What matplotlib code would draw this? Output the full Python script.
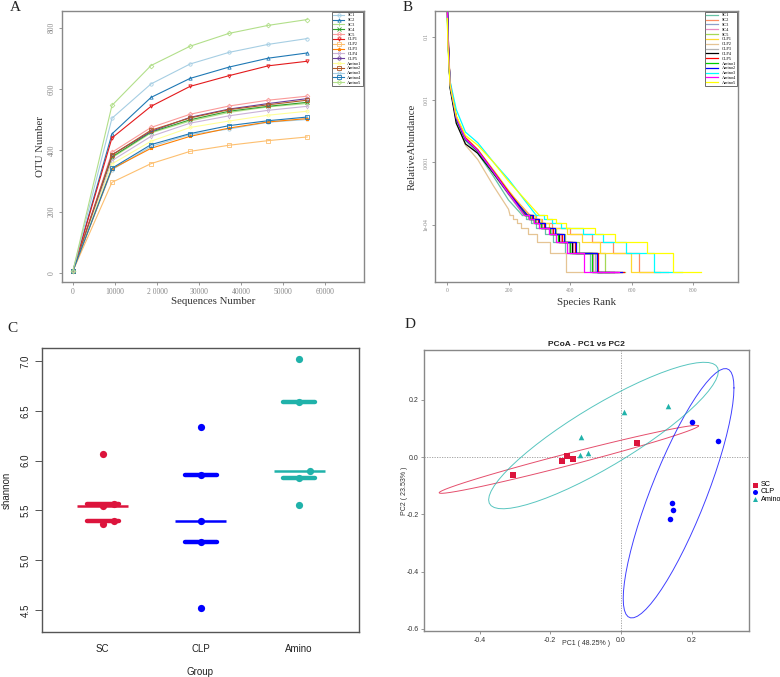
import numpy as np
import matplotlib
matplotlib.use('Agg')
import matplotlib.pyplot as plt
from matplotlib.ticker import NullLocator

samples = ['SC1', 'SC2', 'SC3', 'SC4', 'SC5', 'CLP1', 'CLP2', 'CLP3', 'CLP4', 'CLP5',
           'Amino1', 'Amino2', 'Amino3', 'Amino4', 'Amino5']

# ---- A: rarefaction curves
seq_depth = [0, 9300, 18600, 27900, 37200, 46500, 55800]
otu_number = [
    [7, 337, 413, 452, 470, 492, 501],   # SC1
    [7, 454, 573, 635, 672, 701, 718],   # SC2
    [7, 376, 457, 496, 524, 542, 553],   # SC3
    [7, 379, 460, 500, 528, 544, 557],   # SC4
    [7, 394, 475, 518, 545, 564, 577],   # SC5
    [7, 441, 544, 609, 644, 676, 691],   # CLP1
    [7, 296, 357, 397, 417, 432, 444],   # CLP2
    [7, 340, 407, 446, 473, 493, 504],   # CLP3
    [7, 367, 446, 489, 513, 531, 544],   # CLP4
    [7, 386, 462, 508, 535, 553, 569],   # CLP5
    [7, 356, 430, 475, 496, 515, 528],   # Amino1
    [7, 385, 466, 506, 533, 549, 564],   # Amino2
    [7, 505, 617, 682, 720, 746, 765],   # Amino3
    [7, 342, 419, 455, 481, 497, 509],   # Amino4
    [7, 547, 677, 740, 782, 808, 827],   # Amino5
]
depth_labels = ['0', '10000', '2 0000', '30000', '40000', '50000', '60000']

# ---- B: rank abundance (read counts out of total_reads)
total_reads = 55800
head_rank = [1, 3, 10, 30, 60, 100, 150, 200]
head_count = [
    [14000, 5200, 900, 270, 125, 78, 34, 14],    # SC1
    [15000, 5400, 1000, 300, 138, 88, 41, 19],   # SC2
    [17000, 5600, 950, 285, 132, 86, 40, 18],    # SC3
    [16000, 5800, 1000, 290, 135, 88, 41, 19],   # SC4
    [22000, 6500, 980, 280, 130, 85, 40, 19],    # SC5
    [13000, 5000, 1050, 305, 140, 90, 43, 20],   # CLP1
    [19000, 7000, 1100, 255, 105, 62, 24, 10],   # CLP2
    [15000, 5300, 920, 270, 125, 82, 37, 17],    # CLP3
    [24000, 8000, 850, 235, 110, 78, 38, 18],    # CLP4
    [17000, 5700, 1000, 295, 137, 88, 41, 19],   # CLP5
    [15500, 5500, 960, 275, 128, 84, 39, 18],    # Amino1
    [30000, 6000, 950, 280, 130, 86, 40, 18],    # Amino2
    [12000, 4200, 1100, 390, 170, 115, 57, 30],  # Amino3
    [16000, 5600, 1000, 290, 133, 86, 40, 18],   # Amino4
    [11000, 4000, 950, 310, 150, 105, 57, 28],   # Amino5
]
tail_count = [8, 7, 6, 5, 4, 3, 2, 1]
tail_rank = [
    [245, 258, 272, 290, 320, 345, 385, 466],   # SC1
    [270, 290, 310, 340, 400, 470, 540, 624],   # SC2
    [255, 268, 285, 305, 335, 365, 400, 470],   # SC3
    [258, 272, 290, 310, 340, 370, 410, 475],   # SC4
    [262, 278, 298, 320, 355, 385, 430, 513],   # SC5
    [265, 285, 305, 330, 390, 440, 496, 597],   # CLP1
    [205, 215, 228, 240, 262, 291, 334, 388],   # CLP2
    [250, 263, 280, 300, 330, 355, 395, 480],   # CLP3
    [255, 268, 285, 305, 335, 365, 405, 486],   # CLP4
    [260, 275, 295, 315, 345, 375, 415, 490],   # CLP5
    [255, 270, 287, 305, 335, 360, 400, 472],   # Amino1
    [262, 278, 298, 320, 350, 380, 420, 488],   # Amino2
    [290, 315, 340, 370, 441, 507, 583, 672],   # Amino3
    [252, 265, 282, 300, 330, 355, 390, 445],   # Amino4
    [300, 325, 355, 388, 480, 547, 651, 734],   # Amino5
]
species_total = [501, 718, 553, 557, 580, 691, 444, 504, 544, 576, 528, 570, 765, 560, 826]

# ---- C: shannon index
groups = ['SC', 'CLP', 'Amino']
shannon_SC = [6.07, 5.56, 5.54, 5.39, 5.36]
shannon_CLP = [6.34, 5.86, 5.39, 5.18, 4.52]
shannon_Amino = [7.02, 6.59, 5.90, 5.83, 5.55]

# ---- D: PCoA coordinates
pc1_SC = [-0.305, -0.167, -0.154, -0.136, 0.045]
pc2_SC = [-0.064, -0.013, 0.003, -0.006, 0.049]
pc1_CLP = [0.200, 0.274, 0.144, 0.146, 0.138]
pc2_CLP = [0.123, 0.057, -0.162, -0.184, -0.215]
pc1_Amino = [-0.112, -0.115, -0.092, 0.009, 0.134]
pc2_Amino = [0.071, 0.006, 0.015, 0.157, 0.177]

paired = ['#A6CEE3', '#1F78B4', '#B2DF8A', '#33A02C', '#FB9A99', '#E31A1C',
          '#FDBF6F', '#FF7F00', '#CAB2D6', '#6A3D9A', '#FFFF99', '#B15928']
colors_a = [paired[i % 12] for i in range(15)]
markers_a = ['o', '^', '+', 'x', 'D', 'v', 's', '*', 'd', 'o', 'h', 's', 'o', 's', 'D']
colors_b = ['#66C2A5', '#FC8D62', '#8DA0CB', '#E78AC3', '#A6D854', '#FFD92F', '#E5C494',
            '#B3B3B3', 'black', 'red', '#00CD00', 'blue', 'cyan', 'magenta', 'yellow']
group_colors = ['#DC143C', '#0000FF', '#20B2AA']

SERIF = 'Liberation Serif'
SANS = 'Liberation Sans'

fig = plt.figure(figsize=(7.8, 6.77), dpi=100)


def r_box(ax, color):
    for s in ax.spines.values():
        s.set_color(color)
        s.set_linewidth(1.0)
    ax.tick_params(colors=color, direction='out', length=2, width=0.6, pad=2.5)


# ---------------- A
axA = fig.add_axes([0.0795, 0.5835, 0.387, 0.4003])
for i, name in enumerate(samples):
    axA.plot(seq_depth, otu_number[i], color=colors_a[i], marker=markers_a[i],
             markersize=2.4, mfc='none', mew=0.6, lw=0.8, label=name)
axA.set_xlim(-2600, 69300)
axA.set_ylim(-29, 855)
axA.set_xticks([0, 10000, 20000, 30000, 40000, 50000, 60000])
axA.set_xticklabels(depth_labels, family=SERIF, fontsize=5.5, color='#333')
axA.set_yticks([0, 200, 400, 600, 800])
axA.set_yticklabels(['0', '200', '400', '600', '800'], family=SERIF, fontsize=5.5,
                    color='#333', rotation=90, va='center')
r_box(axA, '#888888')
axA.set_xlabel('Sequences Number', family=SERIF, fontsize=7.8, color='#333')
axA.set_ylabel('OTU Number', family=SERIF, fontsize=7.8, color='#333')
axA.xaxis.set_label_coords(0.5, -0.055)
axA.yaxis.set_label_coords(-0.056, 0.5)
lg = axA.legend(loc='upper right', prop={'family': SERIF, 'size': 3.2}, fancybox=False,
                edgecolor='#555555', borderpad=0.35, labelspacing=0.16, handlelength=2.4,
                borderaxespad=0.15, framealpha=1)
lg.get_frame().set_linewidth(0.6)

# ---------------- B
axB = fig.add_axes([0.5577, 0.5835, 0.3885, 0.4003])
for i, name in enumerate(samples):
    hx = head_rank + [tail_rank[i][0]]
    hy = [c / total_reads for c in head_count[i] + [tail_count[0]]]
    axB.plot(hx, hy, color=colors_b[i], lw=0.9, label=name)
    tx = tail_rank[i] + [species_total[i]]
    ty = [c / total_reads for c in tail_count + [1]]
    axB.step(tx, ty, where='post', color=colors_b[i], lw=0.9)
axB.set_yscale('log')
axB.set_xlim(-39, 946)
axB.set_ylim(1.24e-5, 0.26)
axB.yaxis.set_minor_locator(NullLocator())
axB.set_yticks([1e-4, 1e-3, 1e-2, 1e-1])
axB.set_yticklabels(['1e-04', '0.001', '0.01', '0.1'], family=SERIF, fontsize=4,
                    color='#333', rotation=90, va='center')
axB.set_xticks([0, 200, 400, 600, 800])
axB.set_xticklabels(['0', '200', '400', '600', '800'], family=SERIF, fontsize=4, color='#333')
r_box(axB, '#888888')
axB.set_xlabel('Species Rank', family=SERIF, fontsize=7.8, color='#333')
axB.set_ylabel('RelativeAbundance', family=SERIF, fontsize=7.8, color='#333')
axB.xaxis.set_label_coords(0.5, -0.059)
axB.yaxis.set_label_coords(-0.06, 0.5)
lg = axB.legend(loc='upper right', prop={'family': SERIF, 'size': 3.2}, fancybox=False,
                edgecolor='#555555', borderpad=0.35, labelspacing=0.16, handlelength=2.6,
                borderaxespad=0.15, framealpha=1)
lg.get_frame().set_linewidth(0.6)

# ---------------- C
axC = fig.add_axes([0.0538, 0.0665, 0.4064, 0.4195])
for g, vals in enumerate([shannon_SC, shannon_CLP, shannon_Amino]):
    xg = g + 1
    col = group_colors[g]
    q1, med, q3 = np.percentile(vals, [25, 50, 75])
    axC.plot([xg - 0.26, xg + 0.26], [med, med], color=col, lw=1.8, solid_capstyle='butt')
    for q in (q1, q3):
        axC.plot([xg - 0.16, xg + 0.16], [q, q], color=col, lw=3.2, solid_capstyle='round')
    # simple swarm: nudge a point right when it sits on top of the previous one
    prev = None
    for v in sorted(vals):
        dx = 0.11 if prev is not None and abs(v - prev) < 0.08 else 0.0
        prev = v
        axC.plot(xg + dx, v, 'o', color=col, markersize=5.2, mew=0)
axC.set_xlim(0.38, 3.61)
axC.set_ylim(4.28, 7.13)
axC.set_xticks([1, 2, 3])
axC.set_xticklabels(groups, family=SANS, fontsize=7, color='#222')
axC.set_yticks([4.5, 5.0, 5.5, 6.0, 6.5, 7.0])
axC.set_yticklabels(['4.5', '5.0', '5.5', '6.0', '6.5', '7.0'], family=SANS, fontsize=7,
                    color='#222', rotation=90, va='center')
for s in axC.spines.values():
    s.set_color('#555555')
    s.set_linewidth(1.0)
axC.tick_params(axis='y', colors='#555555', length=5, width=0.7, pad=3)
axC.tick_params(axis='x', length=0, pad=9)
for t in axC.get_yticklabels() + axC.get_xticklabels():
    t.set_color('#222')
axC.set_xlabel('Group', family=SANS, fontsize=7, color='#222')
axC.set_ylabel('shannon', family=SANS, fontsize=7, color='#222')
axC.xaxis.set_label_coords(0.5, -0.123)
axC.yaxis.set_label_coords(-0.095, 0.5)

# ---------------- D


def cov_trob(x, nu=5, maxit=25, tol=0.01):
    n, p = x.shape
    wt = np.ones(n)
    loc = x.mean(axis=0)
    w = np.sqrt(wt)
    for _ in range(maxit):
        w0 = w
        X = x - loc
        _, d, vt = np.linalg.svd(np.sqrt(w / w.sum())[:, None] * X, full_matrices=False)
        wX = X @ vt.T @ np.diag(1 / d)
        Q = (wX ** 2).sum(axis=1)
        w = wt * (nu + p) / (nu + Q)
        loc = (w[:, None] * x).sum(axis=0) / w.sum()
        if np.all(np.abs(w - w0) < tol):
            break
    sx = np.sqrt(w)[:, None] * X
    return loc, sx.T @ sx / wt.sum()


def ellipse_pts(px, py, level=0.95, segments=60):
    x = np.column_stack([px, py])
    center, shape = cov_trob(x)
    dfd = len(px) - 1
    fq = dfd / 2 * ((1 - level) ** (-2 / dfd) - 1)   # F(2, dfd) quantile
    radius = np.sqrt(2 * fq)
    ang = np.linspace(0, 2 * np.pi, segments + 1)
    circ = np.column_stack([np.cos(ang), np.sin(ang)])
    U = np.linalg.cholesky(shape).T
    e = center + radius * circ @ U
    return e[:, 0], e[:, 1]


axD = fig.add_axes([0.5436, 0.0679, 0.4167, 0.415])
axD.axhline(0, color='#999999', lw=0.6, ls=(0, (1.5, 1.5)))
axD.axvline(0, color='#999999', lw=0.6, ls=(0, (1.5, 1.5)))
pcs = [(pc1_SC, pc2_SC, 's'), (pc1_CLP, pc2_CLP, 'o'), (pc1_Amino, pc2_Amino, '^')]
for g, (px, py, mk) in enumerate(pcs):
    ex, ey = ellipse_pts(px, py)
    axD.plot(ex, ey, color=group_colors[g], lw=0.7, alpha=0.75)
for g, (px, py, mk) in enumerate(pcs):
    axD.scatter(px, py, marker=mk, s=16, color=group_colors[g], linewidths=0,
                label=groups[g], zorder=3)
axD.set_xlim(-0.557, 0.362)
axD.set_ylim(-0.608, 0.374)
axD.set_xticks([-0.4, -0.2, 0.0, 0.2])
axD.set_xticklabels(['-0.4', '-0.2', '0.0', '0.2'], family=SANS, fontsize=5)
axD.set_yticks([-0.6, -0.4, -0.2, 0.0, 0.2])
axD.set_yticklabels(['-0.6', '-0.4', '-0.2', '0.0', '0.2'], family=SANS, fontsize=5)
for s in axD.spines.values():
    s.set_color('#888888')
    s.set_linewidth(1.0)
axD.tick_params(colors='#888888', length=2, width=0.6, labelcolor='#333333', pad=2)
axD.set_title('PCoA - PC1 vs PC2', family=SANS, fontsize=6, fontweight='bold',
              color='#222', pad=3)
axD.set_xlabel('PC1 ( 48.25% )', family=SANS, fontsize=5, color='#333')
axD.set_ylabel('PC2 ( 23.53% )', family=SANS, fontsize=5, color='#333')
axD.xaxis.set_label_coords(0.5, -0.032)
axD.yaxis.set_label_coords(-0.049, 0.5)
axD.legend(loc='center left', bbox_to_anchor=(1.0, 0.495), frameon=False,
           prop={'family': SANS, 'size': 5.2}, handlelength=1.0, handletextpad=0.3,
           labelspacing=0.0, borderaxespad=0.2, markerscale=0.9, borderpad=0.1)

# panel letters
for lab, x, y in [('A', 0.012, 0.998), ('B', 0.516, 0.998), ('C', 0.010, 0.525), ('D', 0.519, 0.530)]:
    fig.text(x, y, lab, family=SERIF, fontsize=11, va='top', ha='left', color='#222')

fig.savefig('out.png', dpi=100)
